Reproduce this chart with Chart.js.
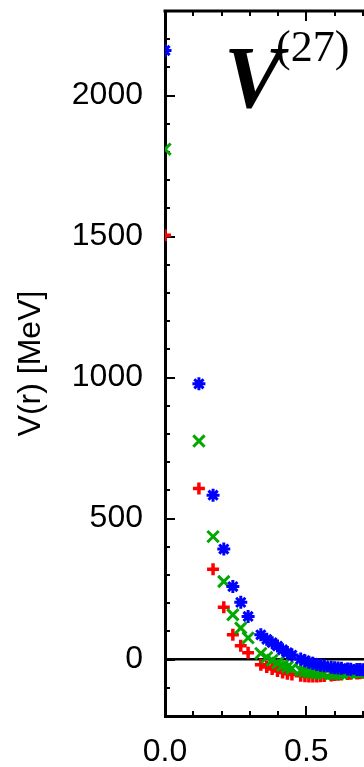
<!DOCTYPE html>
<html>
<head>
<meta charset="utf-8">
<script src="https://cdn.jsdelivr.net/npm/chart.js@4.4.1/dist/chart.umd.min.js"></script>
<style>
  body { margin: 0; background: #fff; }
  #wrap { position: relative; width: 364px; height: 767px; overflow: hidden; }
  #v-chart { position: absolute; left: 0; top: 0; }
  .ttl { position: absolute; font-family: "Liberation Serif", serif; color: #000; white-space: nowrap; }
  #ttl-v { left: 224px; top: 34px; font-size: 88px; line-height: 88px; font-style: italic; font-weight: bold; }
  #ttl-sup { left: 276px; top: 25px; font-size: 44px; line-height: 44px; }
</style>
</head>
<body>
<div id="wrap">
  <canvas id="v-chart" width="364" height="767"></canvas>
  <div class="ttl" id="ttl-v">V</div>
  <div class="ttl" id="ttl-sup">(27)</div>
</div>
<script>
// lattice distances r [fm]
var rVals = [0, 0.12, 0.17, 0.208, 0.24, 0.268, 0.294, 0.339, 0.36, 0.379, 0.398, 0.416, 0.433, 0.449,
             0.48, 0.495, 0.509, 0.523, 0.537, 0.55, 0.563, 0.588, 0.6, 0.612, 0.624, 0.646, 0.657,
             0.679, 0.689, 0.7];
// V(r) [MeV] for the three data sets
var blueV = [2160, 978, 583, 392, 259, 203, 153, 88, 72, 60, 48, 35, 25, 16,
             2, -4, -9, -13, -17, -20, -22, -27, -29, -30, -31, -33, -34,
             -35, -35, -36];
var greenV = [1810, 775, 436, 277, 159, 112, 77, 22, 8, -2, -12, -20, -26, -31,
              -38, -41, -44, -46, -47, -48, -49, -50, -50, -49, -48, -47, -46,
              -45, -44, -43];
var redV = [1505, 607, 320, 186, 88, 49, 24, -18, -26, -33, -40, -46, -50, -53,
            -57, -59, -60, -60, -60, -59, -58, -56, -55, -54, -53, -51, -50,
            -49, -48, -47];
var xTickLabels = [0, 0.5];
var yTickLabels = [0, 500, 1000, 1500, 2000];

function pts(vals) {
  var out = [];
  for (var i = 0; i < rVals.length; i++) {
    out.push({x: rVals[i], y: vals[i]});
  }
  return out;
}

function isLabelled(list, v) {
  for (var i = 0; i < list.length; i++) {
    if (Math.abs(list[i] - v) < 1e-6) return true;
  }
  return false;
}

// gnuplot style ticks pointing into the frame, plus the top frame line
var innerTicks = {
  id: 'innerTicks',
  beforeDatasetsDraw: function (chart) {
    var ctx = chart.ctx;
    var a = chart.chartArea;
    var xs = chart.scales.x;
    var ys = chart.scales.y;
    ctx.save();
    ctx.strokeStyle = '#000';
    ctx.lineWidth = 3;
    ctx.beginPath();
    ctx.moveTo(a.left - 1.5, a.top);
    ctx.lineTo(a.right, a.top);
    ctx.stroke();
    ctx.lineWidth = 2;
    ctx.beginPath();
    ys.ticks.forEach(function (t) {
      var py = Math.round(ys.getPixelForValue(t.value));
      var len = isLabelled(yTickLabels, t.value) ? 10 : 5;
      ctx.moveTo(a.left, py);
      ctx.lineTo(a.left + len, py);
    });
    xs.ticks.forEach(function (t) {
      var px = Math.round(xs.getPixelForValue(t.value));
      var len = isLabelled(xTickLabels, t.value) ? 10 : 5;
      ctx.moveTo(px, a.bottom);
      ctx.lineTo(px, a.bottom - len);
      ctx.moveTo(px, a.top);
      ctx.lineTo(px, a.top + len);
    });
    ctx.stroke();
    ctx.restore();
  }
};

var ctx = document.getElementById('v-chart');
var vChart = new Chart(ctx, {
  type: 'scatter',
  data: {
    datasets: [
      {
        label: 'blue',
        data: pts(blueV),
        pointStyle: 'star',
        pointRadius: 6.5,
        borderColor: '#0000ff',
        backgroundColor: '#0000ff',
        pointBorderWidth: 3,
        order: 1
      },
      {
        label: 'green',
        data: pts(greenV),
        pointStyle: 'crossRot',
        pointRadius: 8,
        borderColor: '#00a800',
        backgroundColor: '#00a800',
        pointBorderWidth: 3,
        order: 2
      },
      {
        label: 'red',
        data: pts(redV),
        pointStyle: 'cross',
        pointRadius: 6,
        borderColor: '#ff0000',
        backgroundColor: '#ff0000',
        pointBorderWidth: 3.5,
        order: 3
      }
    ]
  },
  options: {
    responsive: false,
    animation: false,
    events: [],
    layout: { autoPadding: false, padding: { top: 11, right: 0, bottom: 0, left: 0 } },
    plugins: {
      legend: { display: false },
      tooltip: { enabled: false }
    },
    scales: {
      x: {
        type: 'linear',
        min: 0,
        max: 0.704,
        afterFit: function (scale) {
          scale.height = 51;
          scale.paddingLeft = 0;
          scale.paddingRight = 0;
        },
        border: { display: true, color: '#000', width: 3 },
        grid: { display: false, drawTicks: false },
        ticks: {
          stepSize: 0.1,
          includeBounds: false,
          autoSkip: false,
          maxRotation: 0,
          padding: 17,
          color: '#000',
          font: { family: '"Liberation Sans", Arial, sans-serif', size: 32 },
          callback: function (v) { return isLabelled(xTickLabels, v) ? v.toFixed(1) : ''; }
        }
      },
      y: {
        type: 'linear',
        min: -200,
        max: 2300,
        afterFit: function (scale) {
          scale.width = 165;
          scale.paddingTop = 0;
          scale.paddingBottom = 0;
        },
        border: { display: true, color: '#000', width: 3 },
        grid: {
          drawTicks: false,
          lineWidth: 2.5,
          color: function (c) { return c.tick && c.tick.value === 0 ? '#000' : 'rgba(0,0,0,0)'; }
        },
        ticks: {
          stepSize: 100,
          includeBounds: false,
          autoSkip: false,
          padding: 22,
          color: '#000',
          font: { family: '"Liberation Sans", Arial, sans-serif', size: 32 },
          callback: function (v) { return isLabelled(yTickLabels, v) ? String(v) : ''; }
        },
        title: {
          display: true,
          text: 'V(r) [MeV]',
          color: '#000',
          padding: { top: 12, bottom: 0 },
          font: { family: '"Liberation Sans", Arial, sans-serif', size: 32 }
        }
      }
    }
  },
  plugins: [innerTicks]
});
</script>
</body>
</html>
